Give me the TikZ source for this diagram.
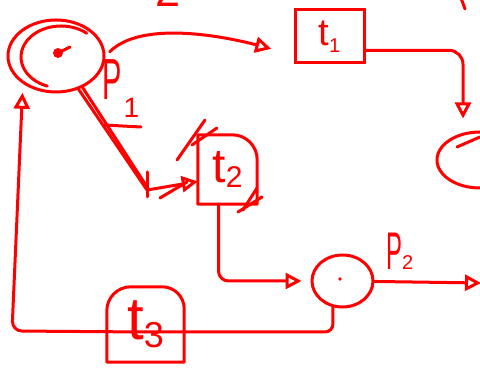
\documentclass[tikz,border=0pt]{standalone}
\usepackage{fontspec}
\setmainfont{Liberation Sans}
\usetikzlibrary{arrows.meta,shapes.geometric}
\newcommand\fs[1]{\fontsize{#1}{#1}\selectfont}
\tikzset{
  ink/.style={draw=red, line width=3pt, line cap=round, line join=round},
  arr/.style={ink, -{Triangle[open, length=16pt, width=16pt]}},
  place/.style={ink, ellipse, inner sep=0pt},
  trans/.style={inner sep=0pt, text=red},
  lbl/.style={inner sep=0pt, text=red},
}
\begin{document}
\begin{tikzpicture}[x=1pt,y=1pt]
\useasboundingbox (0,0) rectangle (480,379);
\clip (0,0) rectangle (480,379);

% places
\node[place, minimum width=96pt, minimum height=72pt] (p1) at (56,323) {};
\node[place, minimum width=61pt, minimum height=52pt] (p2) at (342.5,98) {};
\node[place, minimum width=86pt, minimum height=56pt] (p3) at (480,219) {};
% second pen loop on p1 and the inner stroke of p3
\draw[ink] (61,322) ++(50:40 and 31) arc[start angle=50, end angle=250, x radius=40, y radius=31];
\draw[ink] (457,232) -- (480,242);
% tokens
\fill[red] (58,326) circle (5);
\draw[ink] (58,326) -- (70,332);
\fill[red] (340,100) circle (1.8);

% transitions
\node[trans, draw=red, line width=3pt, minimum width=69pt, minimum height=53pt] (t1) at (329.5,342.5)
  {\fs{38}t\raisebox{-7pt}{\fs{20}1}};
\node[trans, minimum width=59pt, minimum height=69pt] (t2) at (227.5,209.5)
  {\fs{48}t\raisebox{-5pt}{\fs{30}2}};
\node[trans, minimum width=77pt, minimum height=75pt] (t3) at (145.5,54.5)
  {\fs{60}t\raisebox{-8pt}{\fs{36}3}};
\draw[ink] (t2.south west) -- (t2.north west) -- ([xshift=-25pt]t2.north east)
  arc[start angle=90, end angle=0, radius=25pt] -- (t2.south east) -- cycle;
\draw[ink] (t3.south west) -- ([yshift=-24pt]t3.north west)
  arc[start angle=180, end angle=90, radius=24pt] -- ([xshift=-22pt]t3.north east)
  arc[start angle=90, end angle=0, radius=22pt] -- (t3.south east) -- cycle;
% pen hatches on t2
\draw[ink] (177,219) -- (205,259);
\draw[ink] (192,234) -- (217,251);
\draw[ink] (238,167) -- (262,182);
\draw[ink] (243,169) -- (257,191);

% labels
\node[lbl, anchor=base west] (l1) at (102,279) {\fs{58}\scalebox{0.5}[1]{P}\hspace{2pt}\raisebox{-18pt}{\fs{28}1}};
\draw[ink] (104,254) -- (141,252);
\node[lbl, anchor=base west] (l2) at (386,109) {\fs{53}\scalebox{0.45}[1]{P}\fs{20}2};
\node[lbl, anchor=base west] (w1) at (155,372) {\fs{45}2};
\draw[ink] (461,381) -- (465,370);

% arcs
\draw[arr, shorten <=6pt, shorten >=23pt] (p1.east) to[out=45, in=165, looseness=0.75] (t1.207);

\coordinate (b1) at (147,189);
\draw[arr] (p1) -- (b1) -- ([yshift=-12pt]t2.west);
\draw[ink] ([shift={(4pt,2pt)}]p1.-56) -- ([xshift=2pt]b1);
\draw[ink] (147,207) -- (147,182);
\draw[ink] (160,181) -- (187,197);

\draw[arr, rounded corners=14pt, shorten >=12pt] (t1.-21) -| ([xshift=-17pt]p3.north);

\draw[arr, rounded corners=10pt, shorten >=9pt] ([xshift=-9pt]t2.south) |- (p2.west);

\coordinate (o2) at (481,96);
\draw[arr] (p2) -- (o2);

\draw[ink, rounded corners=8pt] (p2.250) |- ([yshift=-7.5pt]t3.center);
\coordinate (c1) at (12,48);
\draw[arr, rounded corners=10pt, shorten >=9pt] ([yshift=-7.5pt]t3.center) -- (c1) -- (p1.220);
\end{tikzpicture}
\end{document}
